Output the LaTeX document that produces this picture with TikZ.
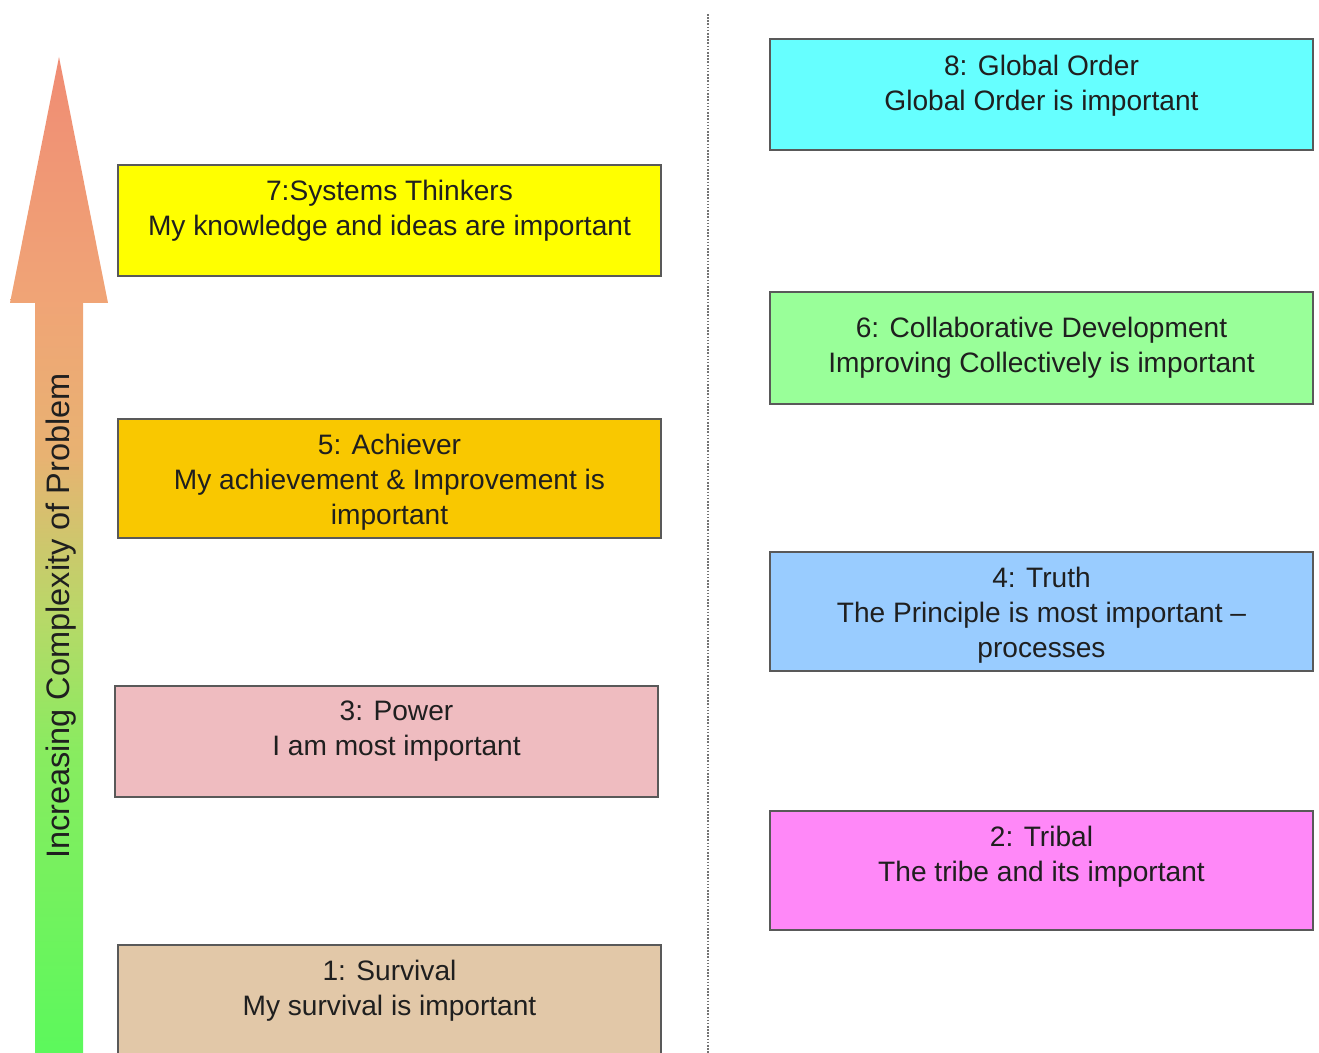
\documentclass[tikz,border=0pt]{standalone}
\usepackage{fontspec}
\setmainfont{Liberation Sans}
\usepackage{tikz}
\usetikzlibrary{calc}

\definecolor{survival}{HTML}{E2C8A8}
\definecolor{tribal}{HTML}{FF88F8}
\definecolor{power}{HTML}{EFBCC0}
\definecolor{truth}{HTML}{99CCFF}
\definecolor{achiever}{HTML}{F9C800}
\definecolor{collab}{HTML}{99FF99}
\definecolor{systems}{HTML}{FFFF00}
\definecolor{globalorder}{HTML}{66FFFF}

% axis arrow: green at the foot, salmon at the tip
\pgfdeclareverticalshading{axisshade}{100bp}{%
  color(0bp)=(rgb,255:red,92;green,248;blue,92);
  color(25bp)=(rgb,255:red,92;green,248;blue,92);
  color(40bp)=(rgb,255:red,136;green,236;blue,96);
  color(47bp)=(rgb,255:red,184;green,216;blue,104);
  color(55bp)=(rgb,255:red,232;green,178;blue,114);
  color(63bp)=(rgb,255:red,240;green,164;blue,118);
  color(75bp)=(rgb,255:red,240;green,140;blue,116);
  color(100bp)=(rgb,255:red,240;green,140;blue,116)}

\newcommand{\lvlfont}{\fontsize{16}{19.9}\selectfont}

\tikzset{
  lvl/.style={draw=black!65, line width=0.85pt, inner sep=0pt, outer sep=0pt,
    minimum width=10.86cm},
  lvltxt/.style={anchor=north, align=center, inner sep=0pt, font=\lvlfont,
    text=black!88},
}

\begin{document}
\begin{tikzpicture}[x=0.02cm, y=-0.02cm]
			%%%%% START %%%%%
			\useasboundingbox (0, 0) rectangle (1319, 1053);
			\clip (0, 0) rectangle (1319, 1053);
			
			% axis arrow
			\shade[shading=axisshade]
			  (35, 1053) -- (35, 303) -- (10, 303) -- (59, 57) -- (108, 303) -- (83, 303) -- (83, 1053) -- cycle;
			\node[rotate=90, inner sep=0pt, font=\fontsize{18.5}{22}\selectfont, text=black!88] (axis) at (61, 616) {Increasing Complexity of Problem};
			
			% divider
			\draw[black!55, line width=0.8pt, dash pattern=on 0.9pt off 0.9pt] (708, 14) -- (708, 1053);
			
			% left column
			\node[lvl, fill=systems, minimum height=2.22cm] (sys) at (389.5, 220.5) {};
			\node[lvltxt] (systxt) at ([yshift=-0.3cm]sys.north) {7:Systems Thinkers\\My knowledge and ideas are important};
			
			\node[lvl, fill=achiever, minimum height=2.38cm] (ach) at (389.5, 478.5) {};
			\node[lvltxt] (achtxt) at ([yshift=-0.3cm]ach.north) {5: Achiever\\My achievement \& Improvement is\\important};
			
			\node[lvl, fill=power, minimum height=2.22cm] (pow) at (386.5, 741.5) {};
			\node[lvltxt] (powtxt) at ([xshift=0.2cm, yshift=-0.3cm]pow.north) {3: Power\\I am most important};
			
			\node[lvl, fill=survival, minimum height=2.6cm] (surv) at (389.5, 1010) {};
			\node[lvltxt] (survtxt) at ([yshift=-0.3cm]surv.north) {1: Survival\\My survival is important};
			
			% right column
			\node[lvl, fill=globalorder, minimum height=2.22cm] (glob) at (1041.5, 94.5) {};
			\node[lvltxt] (globtxt) at ([yshift=-0.32cm]glob.north) {8: Global Order\\Global Order is important};
			
			\node[lvl, fill=collab, minimum height=2.24cm] (coll) at (1041.5, 348) {};
			\node[lvltxt] (colltxt) at ([yshift=-0.5cm]coll.north) {6: Collaborative Development\\Improving Collectively is important};
			
			\node[lvl, fill=truth, minimum height=2.38cm] (tru) at (1041.5, 611.5) {};
			\node[lvltxt] (trutxt) at ([yshift=-0.3cm]tru.north) {4: Truth\\The Principle is most important --\\processes};
			
			\node[lvl, fill=tribal, minimum height=2.38cm] (trib) at (1041.5, 870.5) {};
			\node[lvltxt] (tribtxt) at ([yshift=-0.3cm]trib.north) {2: Tribal\\The tribe and its important};
			
			%%%%% END %%%%%
		\end{tikzpicture}
\end{document}
